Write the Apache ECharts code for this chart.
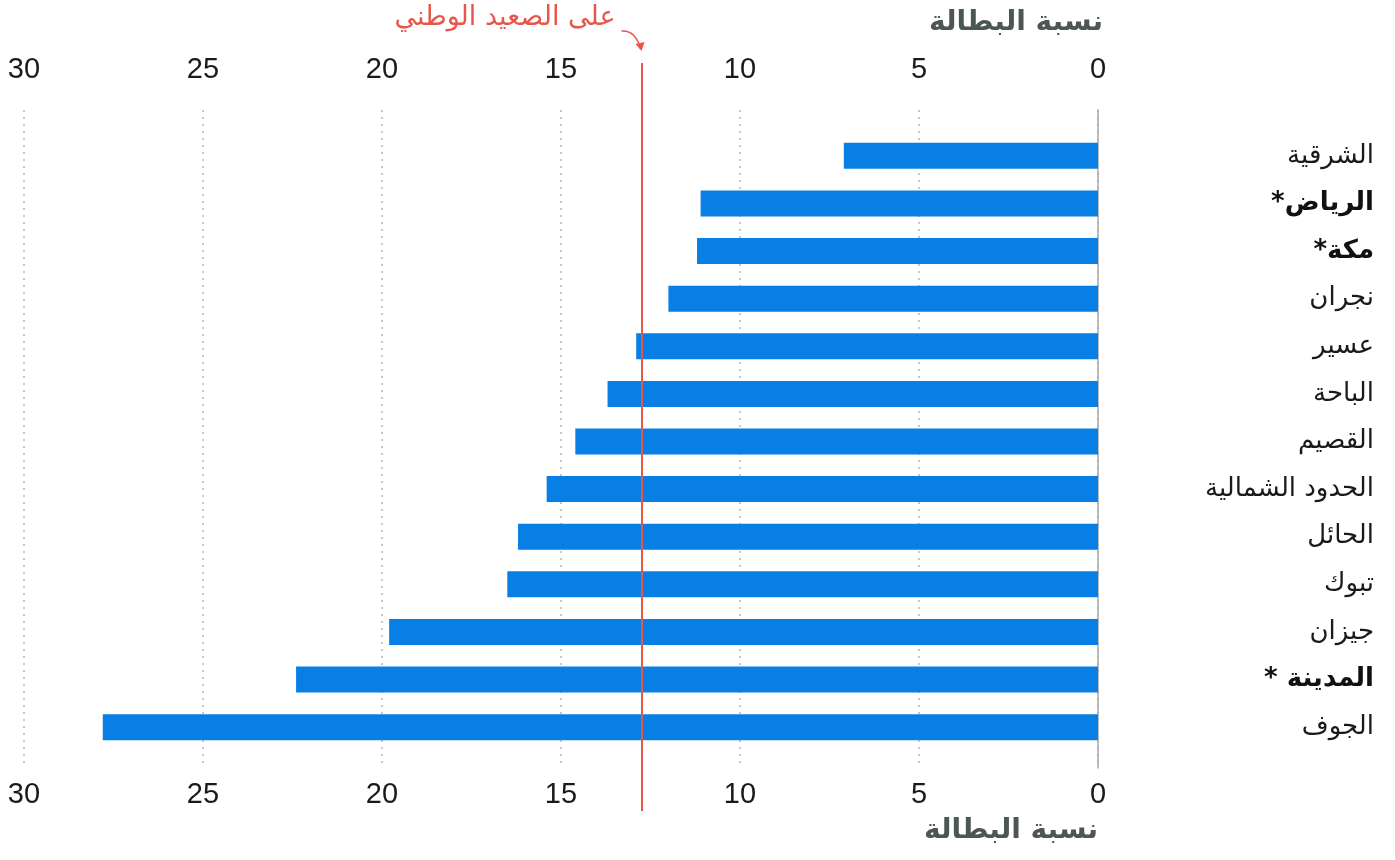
<!DOCTYPE html>
<html lang="ar" style="height: 100%">
<head>
    <meta charset="utf-8">
</head>
<body style="height: 100%; margin: 0; background: #fff">
<div id="container" dir="rtl" style="width: 1395px; height: 860px"></div>

<script type="text/javascript" src="https://fastly.jsdelivr.net/npm/echarts@6.0.0/dist/echarts.min.js"></script>

<script type="text/javascript">
    // المناطق من الأعلى إلى الأسفل
    var regions = ['الشرقية', 'الرياض*', 'مكة*', 'نجران', 'عسير', 'الباحة', 'القصيم',
        'الحدود الشمالية', 'الحائل', 'تبوك', 'جيزان', 'المدينة *', 'الجوف'];
    var boldRegions = ['الرياض*', 'مكة*', 'المدينة *'];
    var unemployment = [7.1, 11.1, 11.2, 12.0, 12.9, 13.7, 14.6, 15.4, 16.2, 16.5, 19.8, 22.4, 27.8];
    var nationalRate = 12.75;
    var axisTicks = [0, 5, 10, 15, 20, 25, 30];

    var axisTitle = 'نسبة البطالة';
    var nationalLabel = 'على الصعيد الوطني';

    var arabicFont = '"DejaVu Sans", "Noto Sans", sans-serif';
    var numFont = '"Liberation Sans", Arial, sans-serif';
    var red = '#e5574a';

    var dom = document.getElementById('container');
    var myChart = echarts.init(dom, null, {renderer: 'canvas'});

    var xMax = axisTicks[axisTicks.length - 1];
    var xStep = axisTicks[1] - axisTicks[0];

    function tickAxis(pos, margin, showSplit) {
        return {
            type: 'value', gridIndex: 0, position: pos, inverse: true,
            min: 0, max: xMax, interval: xStep,
            axisLine: {show: false}, axisTick: {show: false},
            axisLabel: {fontSize: 29, color: '#1a1a1a', fontFamily: numFont, margin: margin},
            splitLine: {show: showSplit, lineStyle: {type: [2, 5], color: '#b5b5b5', width: 1.5}}
        };
    }

    var option = {
        backgroundColor: '#fff',
        animation: false,
        title: [
            {text: axisTitle, right: 287, top: 4,
                textStyle: {fontSize: 28, fontWeight: 'bold', color: '#4b5655', fontFamily: arabicFont}},
            {text: axisTitle, right: 292, bottom: 10,
                textStyle: {fontSize: 28, fontWeight: 'bold', color: '#4b5655', fontFamily: arabicFont}}
        ],
        grid: [
            {left: 24, right: 297, top: 110, bottom: 92},
            {left: 24, right: 297, top: 132, bottom: 109},
            {left: 24, right: 297, top: 63, bottom: 49}
        ],
        xAxis: [
            tickAxis('top', 26, true),
            tickAxis('bottom', 12, false),
            {type: 'value', gridIndex: 1, inverse: true, min: 0, max: xMax, show: false},
            {type: 'value', gridIndex: 2, inverse: true, min: 0, max: xMax, show: false}
        ],
        yAxis: [
            {type: 'value', gridIndex: 0, position: 'right', min: 0, max: 1,
                axisLine: {show: true, lineStyle: {color: '#a8a8a8', width: 1.5}},
                axisTick: {show: false}, axisLabel: {show: false}, splitLine: {show: false}},
            {type: 'category', gridIndex: 1, position: 'right', inverse: true, data: regions,
                axisLine: {show: false}, axisTick: {show: false}, splitLine: {show: false},
                axisLabel: {
                    margin: 276, align: 'right',
                    formatter: function (v) {
                        return boldRegions.indexOf(v) >= 0 ? '{b|' + v + '}' : '{n|' + v + '}';
                    },
                    rich: {
                        n: {fontSize: 26, color: '#1a1a1a', fontFamily: arabicFont},
                        b: {fontSize: 26, color: '#111', fontWeight: 'bold', fontFamily: arabicFont}
                    }
                }},
            {type: 'value', gridIndex: 2, min: 0, max: 1, show: false}
        ],
        series: [
            {
                type: 'bar', xAxisIndex: 2, yAxisIndex: 1,
                data: unemployment, barWidth: 26,
                itemStyle: {color: '#077fe4'}
            },
            {
                type: 'scatter', xAxisIndex: 3, yAxisIndex: 2,
                data: [[nationalRate, 0]], symbolSize: 0, silent: true,
                markLine: {
                    silent: true, symbol: 'none',
                    label: {show: false},
                    lineStyle: {color: red, width: 2, type: 'solid'},
                    data: [{xAxis: nationalRate}]
                }
            }
        ]
    };
    myChart.setOption(option);

    // تعليق المعدل الوطني مع السهم
    function drawNote() {
        var x = myChart.convertToPixel({xAxisIndex: 3}, nationalRate);
        var yTop = myChart.convertToPixel({yAxisIndex: 2}, 1);
        myChart.setOption({
            graphic: [
                {type: 'text', right: 1395 - (x - 26), top: 4,
                    style: {text: nationalLabel, fill: red, fontSize: 27, fontFamily: arabicFont, align: 'right'}},
                {type: 'bezierCurve',
                    shape: {x1: x - 20, y1: 31, cpx1: x - 6, cpy1: 30, x2: x - 1, y2: yTop - 14},
                    style: {stroke: red, lineWidth: 1.5, fill: null}},
                {type: 'polygon',
                    shape: {points: [[x - 6, yTop - 19], [x + 3, yTop - 21], [x, yTop - 12]]},
                    style: {fill: red}}
            ]
        });
    }
    drawNote();

    window.addEventListener('resize', myChart.resize);
</script>
</body>
</html>
